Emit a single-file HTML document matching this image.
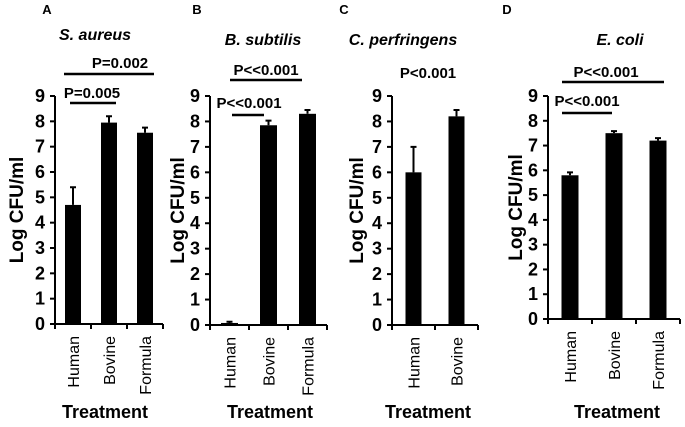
<!DOCTYPE html>
<html><head><meta charset="utf-8"><style>
html,body{margin:0;padding:0;background:#fff;}
svg{display:block;font-family:"Liberation Sans",Calibri,sans-serif;}
</style></head><body>
<svg id="chart" width="685" height="427" viewBox="0 0 685 427" xmlns="http://www.w3.org/2000/svg"></svg>
<script>
// Data
const panelLetters = ["A","B","C","D"];
const panelTitles = ["S. aureus","B. subtilis","C. perfringens","E. coli"];
const categoriesA = ["Human","Bovine","Formula"];
const categoriesB = ["Human","Bovine","Formula"];
const categoriesC = ["Human","Bovine"];
const categoriesD = ["Human","Bovine","Formula"];
const valuesA = [4.7, 7.95, 7.55];
const errorsA = [0.7, 0.25, 0.2];
const valuesB = [0.08, 7.85, 8.3];
const errorsB = [0.05, 0.18, 0.15];
const valuesC = [6.0, 8.2];
const errorsC = [1.0, 0.25];
const valuesD = [5.8, 7.5, 7.2];
const errorsD = [0.12, 0.08, 0.1];
const yTicks = [0,1,2,3,4,5,6,7,8,9];
const pLabelsA = ["P=0.002","P=0.005"];
const pLabelsB = ["P<<0.001","P<<0.001"];
const pLabelsC = ["P<0.001"];
const pLabelsD = ["P<<0.001","P<<0.001"];

// Layout (positions only)
const layout = [
  {ax:55, y0:324, y9:96, step:36, bw:16, letterX:47, titleX:95, titleY:40, ytX:16, trX:105,
   brackets:[{x1:64,x2:154,y:74,tx:120,ty:68},{x1:70,x2:116,y:103,tx:92,ty:98}]},
  {ax:210, y0:325, y9:96, step:39, bw:17, letterX:197, titleX:263, titleY:45, ytX:177, trX:270,
   brackets:[{x1:230,x2:302,y:80,tx:266,ty:75},{x1:232,x2:264,y:115,tx:249,ty:108}]},
  {ax:392, y0:325, y9:96, step:43, bw:16, letterX:344, titleX:403, titleY:45, ytX:356, trX:428,
   brackets:[{x1:0,x2:0,y:0,tx:428,ty:78,noline:true}]},
  {ax:548, y0:319, y9:96, step:44, bw:17, letterX:507, titleX:620, titleY:45, ytX:515, trX:617,
   brackets:[{x1:562,x2:664,y:82,tx:606,ty:77},{x1:562,x2:612,y:113,tx:587,ty:106}]}
];
const cats=[categoriesA,categoriesB,categoriesC,categoriesD];
const vals=[valuesA,valuesB,valuesC,valuesD];
const errs=[errorsA,errorsB,errorsC,errorsD];
const pl=[pLabelsA,pLabelsB,pLabelsC,pLabelsD];

const svg=document.getElementById('chart');
const NS='http://www.w3.org/2000/svg';
function mk(tag,attrs,parent){const e=document.createElementNS(NS,tag);for(const k in attrs)e.setAttribute(k,attrs[k]);(parent||svg).appendChild(e);return e;}

layout.forEach((L,i)=>{
  const g=mk('g',{});
  
  
  const y=v=>L.y0-(v/9)*(L.y0-L.y9);
  const n=cats[i].length;
  const xc=k=>L.ax+L.step*(k+0.5);
  const xEnd=L.ax+L.step*n;
  let t=mk('text',{x:L.letterX,y:14,'font-size':13,'font-weight':'bold','text-anchor':'middle'},g);t.textContent=panelLetters[i];
  
  
  t=mk('text',{x:L.titleX,y:L.titleY,'font-size':16,'font-weight':'bold','font-style':'italic','text-anchor':'middle'},g);t.textContent=panelTitles[i];
  
  
  let a=mk('line',{x1:L.ax,y1:y(9),x2:L.ax,y2:L.y0,stroke:'#000','stroke-width':2},g);
  
  
  a=mk('line',{x1:L.ax,y1:L.y0,x2:xEnd,y2:L.y0,stroke:'#000','stroke-width':2},g);
  
  
  yTicks.forEach(v=>{
    mk('line',{x1:L.ax-5,y1:y(v),x2:L.ax,y2:y(v),stroke:'#000','stroke-width':2},g);
    const tl=mk('text',{x:L.ax-10,y:y(v)+6,'font-size':18,'font-weight':'bold','text-anchor':'end'},g);tl.textContent=v;
    
    
  });
  for(let k=0;k<=n;k++) mk('line',{x1:L.ax+L.step*k,y1:L.y0,x2:L.ax+L.step*k,y2:L.y0+5,stroke:'#000','stroke-width':2},g);
  cats[i].forEach((c,k)=>{
    const v=vals[i][k],e=errs[i][k],cx=xc(k);
    const b=mk('rect',{x:cx-L.bw/2,y:y(v),width:L.bw,height:L.y0-y(v),fill:'#000'},g);
    
    
    const eb=mk('path',{d:`M${cx},${y(v)} V${y(v+e)} M${cx-3},${y(v+e)} H${cx+3}`,stroke:'#000','stroke-width':2,fill:'none'},g);
    
    
    const xl=mk('text',{x:0,y:0,'font-size':16,'text-anchor':'end',transform:`translate(${cx+6},${L.y0+12}) rotate(-90)`},g);xl.textContent=c;
    
    
  });
  t=mk('text',{x:0,y:0,'font-size':19,'font-weight':'bold','text-anchor':'middle',transform:`translate(${L.ytX+7},${(y(9)+L.y0)/2}) rotate(-90)`},g);t.textContent='Log CFU/ml';
  
  
  t=mk('text',{x:L.trX,y:418,'font-size':18,'font-weight':'bold','text-anchor':'middle'},g);t.textContent='Treatment';
  
  
  L.brackets.forEach((br,j)=>{
    if(!br.noline){
      const bl=mk('line',{x1:br.x1,y1:br.y,x2:br.x2,y2:br.y,stroke:'#000','stroke-width':2.5},g);
      
      
    }
    const pt=mk('text',{x:br.tx,y:br.ty,'font-size':15,'font-weight':'bold','text-anchor':'middle'},g);pt.textContent=pl[i][j];
    
    
  });
});
</script>
</body></html>
